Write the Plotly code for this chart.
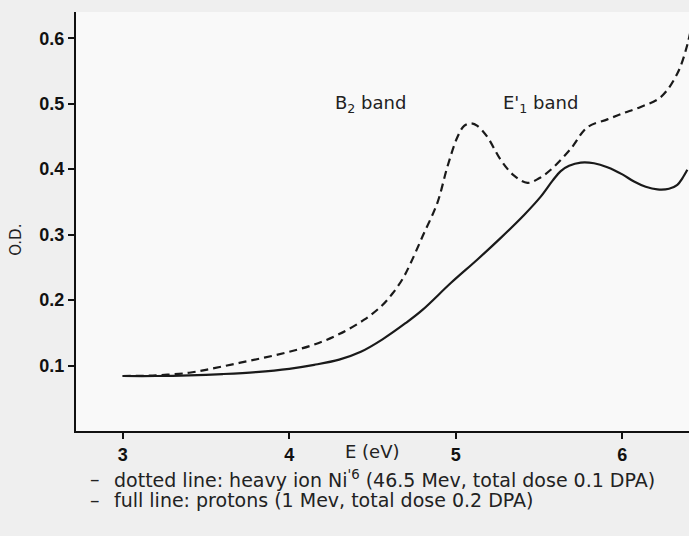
import plotly.graph_objects as go

# Solid line: protons (1 MeV, 0.2 DPA)
E_solid = [3.0, 3.2, 3.4, 3.6, 3.8, 4.0, 4.15, 4.3, 4.43, 4.56, 4.7, 4.8, 4.97, 5.13, 5.27,
           5.41, 5.51, 5.58, 5.63, 5.68, 5.75, 5.83, 5.91, 6.0, 6.07, 6.14, 6.21, 6.28, 6.33,
           6.36, 6.39]
OD_solid = [0.084, 0.084, 0.085, 0.087, 0.090, 0.095, 0.101, 0.109, 0.121, 0.140, 0.165, 0.185,
            0.226, 0.262, 0.295, 0.330, 0.358, 0.382, 0.397, 0.405, 0.410, 0.409, 0.403, 0.392,
            0.381, 0.373, 0.369, 0.370, 0.376, 0.386, 0.399]

# Dashed line: heavy ion Ni (46.5 MeV, 0.1 DPA)
E_dash = [3.0, 3.2, 3.4, 3.55, 3.7, 3.85, 4.0, 4.15, 4.3, 4.45, 4.55, 4.62, 4.68, 4.73, 4.80,
          4.89, 4.95, 5.01, 5.05, 5.09, 5.13, 5.19, 5.27, 5.35, 5.43, 5.5, 5.57, 5.69, 5.79,
          5.91, 6.0, 6.11, 6.23, 6.33, 6.39, 6.42]
OD_dash = [0.084, 0.085, 0.089, 0.096, 0.104, 0.112, 0.121, 0.132, 0.148, 0.170, 0.190, 0.210,
           0.232, 0.257, 0.297, 0.349, 0.404, 0.449, 0.466, 0.470, 0.466, 0.449, 0.414, 0.390,
           0.379, 0.386, 0.399, 0.431, 0.464, 0.476, 0.485, 0.495, 0.510, 0.546, 0.590, 0.625]

x_ticks = [3, 4, 5, 6]
y_ticks = [0.1, 0.2, 0.3, 0.4, 0.5, 0.6]
y_tick_labels = ["0.1", "0.2", "0.3", "0.4", "0.5", "0.6"]

tick_font = dict(family="Liberation Sans Narrow, Liberation Sans, Arial, sans-serif", size=18,
                 color="#111", weight="bold")
text_font = dict(family="DejaVu Sans, sans-serif", size=19, color="#222")
band_font = dict(family="DejaVu Sans, sans-serif", size=18, color="#222")

fig = go.Figure()
fig.add_trace(go.Scatter(x=E_dash, y=OD_dash, mode="lines",
                         line=dict(color="#1a1a1a", width=2.2, dash="8px,5px", shape="spline", smoothing=1.0),
                         showlegend=False))
fig.add_trace(go.Scatter(x=E_solid, y=OD_solid, mode="lines",
                         line=dict(color="#1a1a1a", width=2.2, shape="spline", smoothing=1.0),
                         showlegend=False))

fig.update_layout(
    width=689, height=536,
    margin=dict(l=76, r=0, t=12, b=105),
    paper_bgcolor="#efefef",
    plot_bgcolor="#f9f9f9",
    xaxis=dict(range=[2.72, 6.40], tickvals=x_ticks, ticks="outside", ticklen=6, tickwidth=1.5,
               tickcolor="#111", showline=True, linecolor="#111", linewidth=2, showgrid=False,
               zeroline=False, tickfont=tick_font, fixedrange=True),
    yaxis=dict(range=[0, 0.64], tickvals=y_ticks, ticktext=y_tick_labels, ticks="outside",
               ticklen=6, tickwidth=1.5, tickcolor="#111", showline=True, linecolor="#111",
               linewidth=2, showgrid=False, zeroline=False, tickfont=tick_font, fixedrange=True),
)

def ann(text, x, y, xref="paper", yref="paper", xanchor="left", **kw):
    d = dict(text=text, x=x, y=y, xref=xref, yref=yref, xanchor=xanchor, yanchor="middle",
             showarrow=False, font=kw.pop("font", text_font))
    d.update(kw)
    return d

annotations = [
    ann("O.D.", -0.098, 0.456, xanchor="center", textangle=-90,
        font=dict(family="DejaVu Sans, sans-serif", size=15, color="#222")),
    ann("E (eV)", 0.483, -0.050, xanchor="center", font=band_font),
    ann("B<sub>2</sub> band", 4.26, 0.50, xref="x", yref="y", font=band_font),
    ann("E'<sub>1</sub> band", 5.27, 0.50, xref="x", yref="y", font=band_font),
    ann("–", 0.0196, -0.1146),
    ann("dotted line: heavy ion Ni<sup>'6</sup> (46.5 Mev, total dose 0.1 DPA)", 0.0587, -0.1146),
    ann("–", 0.0196, -0.1647),
    ann("full line: protons (1 Mev, total dose 0.2 DPA)", 0.0587, -0.1647),
]
fig.update_layout(annotations=annotations)

fig.write_html("out.html")
